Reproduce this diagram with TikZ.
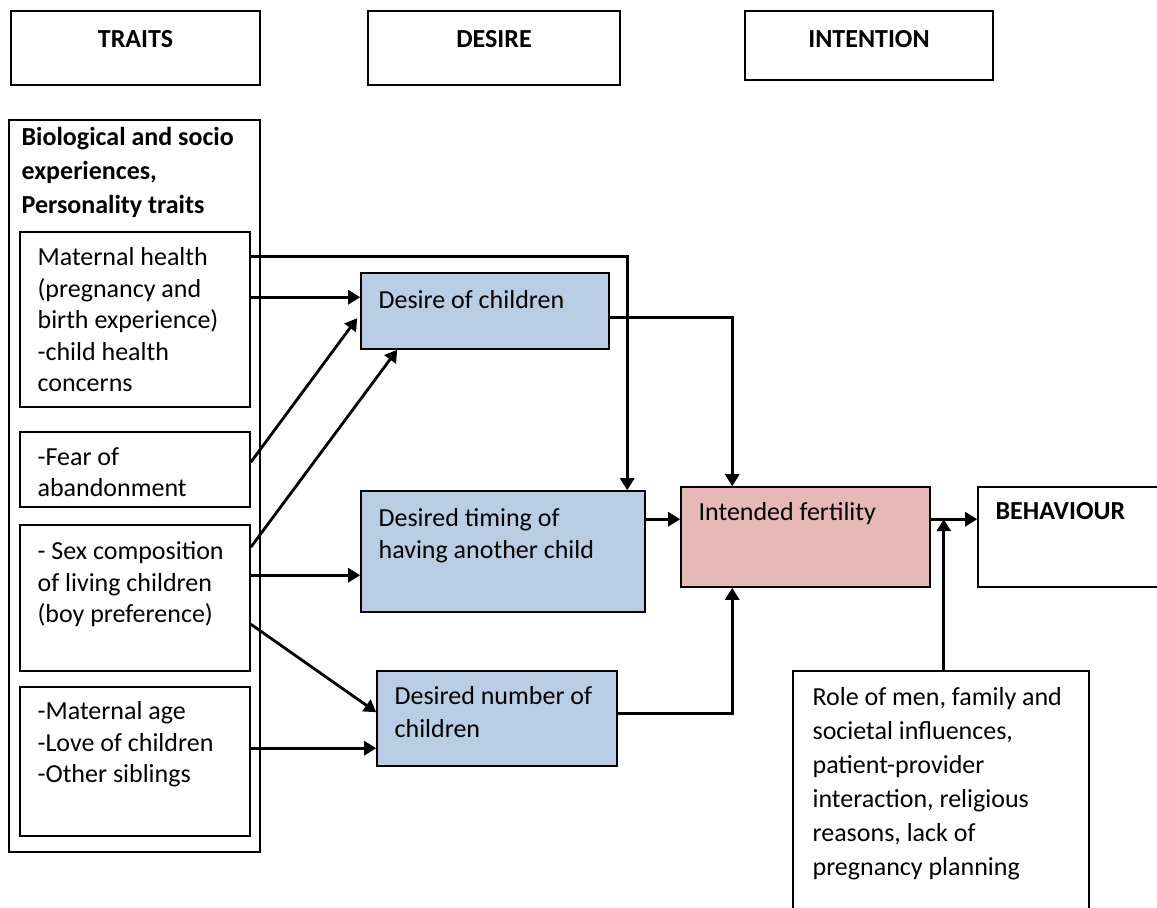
\documentclass[tikz,border=0pt]{standalone}
\usepackage{fontspec}
\setmainfont{Carlito}
\usetikzlibrary{arrows.meta,calc,fit}
\definecolor{descol}{HTML}{B9CDE5}
\definecolor{intcol}{HTML}{E6B9B8}
\tikzset{
  box/.style={draw, line width=0.8pt, inner sep=0pt},
  txt/.style={anchor=north west, inner sep=0pt, align=left, font=\fontsize{13}{15.75}\selectfont},
  head/.style={inner sep=0pt, font=\fontsize{13}{15}\selectfont\bfseries},
  link/.style={line width=1.4pt, -{Triangle[width=7pt,length=6pt]}},
}
\begin{document}
\begin{tikzpicture}[x=0.5pt, y=-0.5pt, line join=miter]
  \useasboundingbox (0,0) rectangle (1157,907);
  % the three headings on top
  \node[box, fit={(11,11) (260,85)}] (traits) {};
  \node[box, fit={(368,11) (620,85)}] (desire) {};
  \node[box, fit={(745,11) (993,80)}] (intent) {};
  \node[head] (traitsT) at ($(traits.north)+(0,29)$) {TRAITS};
  \node[head] (desireT) at ($(desire.north)+(0,29)$) {DESIRE};
  \node[head] (intentT) at ($(intent.north)+(0,29)$) {INTENTION};
  % the traits column, with its four boxes
  \node[box, fit={(9,120) (260,852)}] (bio) {};
  \node[txt, font=\fontsize{13}{17}\selectfont\bfseries] (bioT) at ($(bio.north west)+(13,8)$)
    {Biological and socio\\experiences,\\Personality traits};
  \node[box, fit={(20,232) (250,407)}] (mh) {};
  \node[box, fit={(20,432) (250,507)}] (fear) {};
  \node[box, fit={(20,525) (250,671)}] (sex) {};
  \node[box, fit={(20,687) (250,836)}] (age) {};
  \node[txt] (mhT) at ($(mh.north west)+(18,16)$)
    {Maternal health\\(pregnancy and\\birth experience)\\-child health\\concerns};
  \node[txt] (fearT) at ($(fear.north west)+(18,16)$) {-Fear of\\abandonment};
  \node[txt] (sexT) at ($(sex.north west)+(18,17)$)
    {- Sex composition\\of living children\\(boy preference)};
  \node[txt] (ageT) at ($(age.north west)+(18,15)$)
    {-Maternal age\\-Love of children\\-Other siblings};
  % the desires
  \node[box, fill=descol, fit={(361,273) (609,349)}] (doc) {};
  \node[box, fill=descol, fit={(361,491) (645,612)}] (tim) {};
  \node[box, fill=descol, fit={(377,671) (617,766)}] (num) {};
  \node[txt] (docT) at ($(doc.north west)+(18,18)$) {Desire of children};
  \node[txt] (timT) at ($(tim.north west)+(18,18)$) {Desired timing of\\having another child};
  \node[txt, font=\fontsize{13}{16.5}\selectfont] (numT) at ($(num.north west)+(18,16)$)
    {Desired number of\\children};
  % intention, behaviour and the outside influences
  \node[box, fill=intcol, fit={(681,487) (930,587)}] (fert) {};
  \node[box, fit={(978,487) (1160,587)}] (beh) {};
  \node[box, fit={(793,671) (1089,930)}] (role) {};
  \node[txt] (fertT) at ($(fert.north west)+(18,16)$) {Intended fertility};
  \node[txt, font=\fontsize{13}{15}\selectfont\bfseries] (behT) at ($(beh.north west)+(18,16)$) {BEHAVIOUR};
  \node[txt, font=\fontsize{13}{17}\selectfont] (roleT) at ($(role.north west)+(20,17)$)
    {Role of men, family and\\societal influences,\\patient-provider\\interaction, religious\\reasons, lack of\\pregnancy planning};
  \coordinate (join) at ($(fert.north east)+(13,33)$);
  % the arrows
  \draw[link] ($(mh.north east)+(0,25)$) -| ($(tim.north west)+(267,0)$);
  \draw[link] ($(mh.north east)+(0,66)$) -- ($(doc.north west)+(0,25)$);
  \draw[link] ($(fear.north east)+(0,31)$) -- ($(doc.north west)+(-3,46)$);
  \draw[link] ($(sex.north east)+(0,23)$) -- ($(doc.south west)+(37,0)$);
  \draw[link] ($(sex.north east)+(0,51)$) -- ($(tim.north west)+(0,85)$);
  \draw[link] ($(sex.north east)+(0,100)$) -- ($(num.north west)+(0,42)$);
  \draw[link] ($(age.north east)+(0,62)$) -- ($(num.north west)+(0,78)$);
  \draw[link] ($(doc.north east)+(0,45)$) -| ($(fert.north west)+(52,0)$);
  \draw[link] ($(tim.north east)+(0,29)$) -- ($(fert.north west)+(0,33)$);
  \draw[link] ($(num.north east)+(0,43)$) -| ($(fert.south west)+(52,0)$);
  \draw[link] ($(fert.north east)+(0,33)$) -- ($(beh.north west)+(0,33)$);
  \draw[link] (role.north west -| join) -- (join);
\end{tikzpicture}
\end{document}
